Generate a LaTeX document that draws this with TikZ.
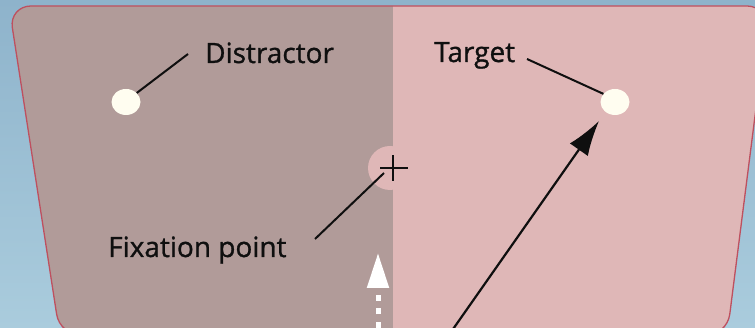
\documentclass[tikz,border=0pt]{standalone}
\usepackage{fontspec}
\setmainfont[FakeBold=1.0]{Open Sans}
\usetikzlibrary{arrows.meta,shapes.geometric}
\definecolor{bgtop}{RGB}{142,179,203}
\definecolor{bgbot}{RGB}{170,204,221}
\definecolor{leftc}{RGB}{177,155,153}
\definecolor{rightc}{RGB}{223,183,183}
\definecolor{rimc}{RGB}{190,80,95}
\definecolor{dotc}{RGB}{255,253,240}
\definecolor{inkc}{RGB}{15,15,15}
\tikzset{
  lbl/.style={font=\fontsize{28}{31}\selectfont, text=inkc, inner sep=0pt, anchor=base west},
  dotnode/.style={ellipse, fill=dotc, minimum width=29, minimum height=26, inner sep=0pt},
  leader/.style={draw=inkc, line width=2},
}
\begin{document}
\begin{tikzpicture}[x=1pt,y=-1pt]
\useasboundingbox (0,0) rectangle (755,328);
% background
\shade[top color=bgtop, bottom color=bgbot] (0,0) rectangle (755,328);
% screen
\begin{scope}
  \clip[rounded corners=22] (9,6) -- (769,6) -- (727,336) -- (60,336) -- cycle;
  \fill[leftc] (0,0) rectangle (393,340);
  \fill[rightc] (393,0) rectangle (780,340);
  \fill[rightc] (390,168) circle (22);
\end{scope}
\draw[rimc, line width=1.3, rounded corners=22] (9,6) -- (769,6) -- (727,336) -- (60,336) -- cycle;
% dots
\node[dotnode] (dis) at (126,102) {};
\node[dotnode] (tar) at (615,102) {};
% fixation cross
\coordinate (fix) at (393,168);
\draw[inkc, line width=1.5] ([xshift=-13]fix) -- ([xshift=15]fix);
\draw[inkc, line width=1.5] ([yshift=-13]fix) -- ([yshift=13]fix);
% labels
\node[lbl] (ldis) at (205,63) {Distractor};
\node[lbl] (ltar) at (434,62) {Target};
\node[lbl] (lfix) at (108,257) {Fixation point};
% leaders
\coordinate (ldisE) at (188,54);
\coordinate (ltarE) at (527,59);
\coordinate (lfixE) at (315,239);
\coordinate (fixE) at (384,173);
\draw[leader] (ldisE) -- (dis.40);
\draw[leader] (ltarE) -- (tar.145);
\draw[leader] (lfixE) -- (fixE);
% saccade arrow
\coordinate (sacS) at (451,332);
\coordinate (sacT) at (599,121);
\draw[inkc, line width=2.2, -{Latex[length=35,width=22]}] (sacS) -- (sacT);
% white dashed arrow
\coordinate (wS) at (378,340);
\coordinate (wT) at (378,253);
\draw[white, line width=5, dash pattern=on 6 off 7.5, dash phase=1.5, -{Triangle[length=35,width=21]}] (wS) -- (wT);
\end{tikzpicture}
\end{document}
